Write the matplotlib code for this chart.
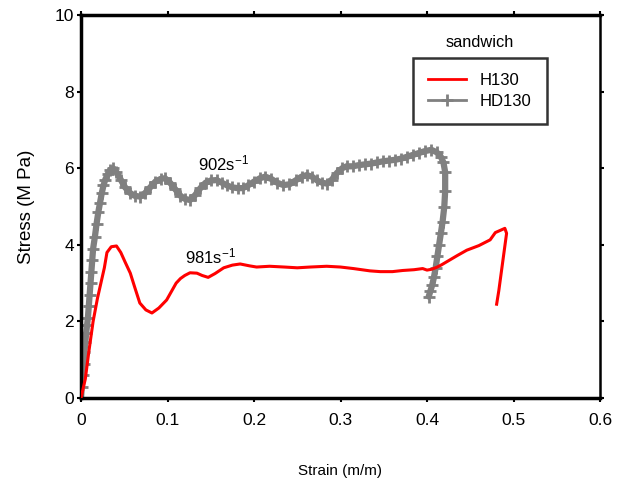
import matplotlib.pyplot as plt
from matplotlib.lines import Line2D

plt.rcParams['font.family'] = ['Liberation Sans', 'DejaVu Sans']
plt.rcParams['mathtext.fontset'] = 'custom'
plt.rcParams['mathtext.rm'] = 'Liberation Sans'
plt.rcParams['mathtext.it'] = 'Liberation Sans'

# H130 (981 1/s)
h130_strain = [0.0, 0.003, 0.005, 0.009, 0.014, 0.019, 0.023, 0.027, 0.030, 0.035, 0.041,
               0.046, 0.051, 0.057, 0.062, 0.068, 0.075, 0.082, 0.090, 0.099, 0.105, 0.110,
               0.115, 0.120, 0.126, 0.134, 0.140, 0.147, 0.155, 0.165, 0.175, 0.184, 0.195,
               0.203, 0.218, 0.235, 0.250, 0.265, 0.284, 0.300, 0.315, 0.334, 0.346, 0.360,
               0.372, 0.385, 0.395, 0.400, 0.405, 0.411, 0.417, 0.423, 0.435, 0.446, 0.460,
               0.473, 0.479, 0.485, 0.490, 0.492, 0.489, 0.486, 0.483, 0.4805]
h130_stress = [0.0, 0.3, 0.5, 1.2, 2.0, 2.6, 3.0, 3.4, 3.8, 3.95, 3.97,
               3.8, 3.55, 3.26, 2.9, 2.48, 2.3, 2.22, 2.35, 2.56, 2.8, 3.0,
               3.12, 3.2, 3.27, 3.26, 3.2, 3.15, 3.25, 3.4, 3.47, 3.5, 3.45,
               3.42, 3.44, 3.42, 3.40, 3.42, 3.44, 3.42, 3.38, 3.32, 3.30, 3.30,
               3.33, 3.35, 3.38, 3.34, 3.36, 3.41, 3.48, 3.56, 3.72, 3.86, 3.98,
               4.13, 4.32, 4.38, 4.43, 4.30, 3.80, 3.30, 2.80, 2.45]

# HD130 (902 1/s)
hd130_strain = [0.0, 0.001, 0.002, 0.003, 0.004, 0.005, 0.006, 0.007, 0.008, 0.009, 0.010,
                0.011, 0.012, 0.013, 0.014, 0.016, 0.018, 0.020, 0.022, 0.024, 0.026, 0.028,
                0.031, 0.034, 0.037, 0.041, 0.046, 0.051, 0.057, 0.062, 0.068, 0.074, 0.080,
                0.086, 0.092, 0.097, 0.103, 0.109, 0.115, 0.120, 0.126, 0.132, 0.138, 0.144,
                0.150, 0.157, 0.163, 0.169, 0.175, 0.181, 0.187, 0.193, 0.200, 0.207, 0.213,
                0.220, 0.227, 0.234, 0.241, 0.248, 0.255, 0.261, 0.267, 0.273, 0.279, 0.284,
                0.290, 0.296, 0.302, 0.307, 0.314, 0.321, 0.328, 0.335, 0.342, 0.349, 0.356,
                0.363, 0.370, 0.377, 0.384, 0.391, 0.398, 0.405, 0.411, 0.416, 0.419, 0.421,
                0.421, 0.420, 0.418, 0.416, 0.414, 0.412, 0.410, 0.408, 0.406, 0.404, 0.402]
hd130_stress = [0.0, 0.3, 0.6, 0.9, 1.2, 1.45, 1.7, 1.9, 2.1, 2.4, 2.7,
                3.0, 3.3, 3.6, 3.9, 4.2, 4.55, 4.85, 5.1, 5.35, 5.55, 5.7,
                5.85, 5.95, 6.0, 5.9, 5.7, 5.5, 5.35, 5.28, 5.26, 5.35, 5.5,
                5.65, 5.72, 5.74, 5.62, 5.45, 5.28, 5.2, 5.17, 5.3, 5.48, 5.62,
                5.68, 5.69, 5.62, 5.55, 5.5, 5.48, 5.48, 5.55, 5.65, 5.74, 5.78,
                5.72, 5.62, 5.56, 5.58, 5.68, 5.78, 5.82, 5.78, 5.68, 5.62, 5.6,
                5.7, 5.88, 6.0, 6.05, 6.05, 6.08, 6.1, 6.12, 6.15, 6.18, 6.2,
                6.22, 6.25, 6.3, 6.35, 6.4, 6.45, 6.48, 6.42, 6.3, 6.15, 5.9,
                5.4, 5.0, 4.6, 4.3, 4.0, 3.7, 3.4, 3.15, 2.95, 2.8, 2.65]

x_ticks = [0, 0.1, 0.2, 0.3, 0.4, 0.5, 0.6]
x_tick_labels = ['0', '0.1', '0.2', '0.3', '0.4', '0.5', '0.6']
y_ticks = [0, 2, 4, 6, 8, 10]

fig = plt.figure(figsize=(6.25, 4.88), dpi=100)
ax = fig.add_axes([0.1296, 0.1844, 0.8304, 0.7848])

ax.plot(h130_strain, h130_stress, color='#ff0000', lw=2.2, zorder=3)
# thick band + dense crosses like the original marker trace
ax.plot(hd130_strain, hd130_stress, color='#808080', lw=4.5, solid_capstyle='round',
        marker='+', markersize=9, markeredgewidth=2, zorder=2)

ax.set_xlim(0, 0.6)
ax.set_ylim(0, 10)
ax.set_xticks(x_ticks)
ax.set_xticklabels(x_tick_labels)
ax.set_yticks(y_ticks)
ax.tick_params(direction='out', length=3, width=1.5, labelsize=12.5,
               top=True, right=True, pad=8)
ax.tick_params(axis='y', pad=2)
for side in ['left', 'bottom', 'top']:
    ax.spines[side].set_linewidth(2.5)
ax.spines['right'].set_linewidth(1.8)

ax.set_xlabel('Strain (m/m)', fontsize=11, labelpad=26)
ax.set_ylabel('Stress (M Pa)', fontsize=13.5, labelpad=14)

ax.text(0.165, 6.12, '902s$^{-1}$', fontsize=12, ha='center', va='center')
ax.text(0.15, 3.7, '981s$^{-1}$', fontsize=12, ha='center', va='center')

ax.text(0.769, 0.927, 'sandwich', transform=ax.transAxes, fontsize=11.8,
        ha='center', va='center')
handles = [Line2D([], [], color='#ff0000', lw=2),
           Line2D([], [], color='#808080', lw=2, marker='+', markersize=8,
                  markeredgewidth=2)]
leg = ax.legend(handles, ['H130', 'HD130'], loc='upper left',
                bbox_to_anchor=(0.64, 0.708, 0.258, 0.18), mode='expand',
                fontsize=12, frameon=True, fancybox=False, edgecolor='black',
                borderpad=0.9, handlelength=2.3, labelspacing=0.35, borderaxespad=0)
leg.get_frame().set_linewidth(1.8)

plt.savefig('out.png', dpi=100)
